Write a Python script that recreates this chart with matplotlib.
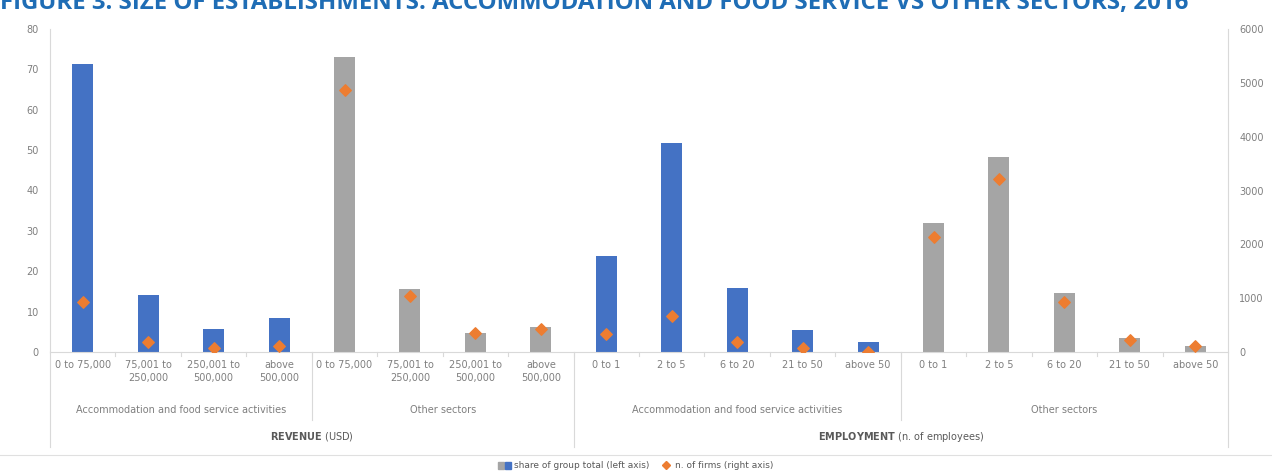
import matplotlib.pyplot as plt
from matplotlib.patches import Patch
from matplotlib.lines import Line2D
from matplotlib.legend_handler import HandlerTuple

# --- DONNEES ---
rev_labels = ["0 to 75,000", "75,001 to\n250,000", "250,001 to\n500,000", "above\n500,000"]
emp_labels = ["0 to 1", "2 to 5", "6 to 20", "21 to 50", "above 50"]

rev_acc_share = [71.3, 14.1, 5.6, 8.5]
rev_oth_share = [73.0, 15.7, 4.8, 6.3]
emp_acc_share = [23.8, 51.8, 15.8, 5.4, 2.4]
emp_oth_share = [32.0, 48.4, 14.6, 3.4, 1.6]

rev_acc_firms = [935, 180, 75, 110]
rev_oth_firms = [4870, 1040, 350, 420]
emp_acc_firms = [335, 670, 190, 70, 5]
emp_oth_firms = [2140, 3215, 930, 220, 110]

group_labels = ["Accommodation and food service activities", "Other sectors",
                "Accommodation and food service activities", "Other sectors"]
BLUE, GREY, ORANGE = "#4472C4", "#A5A5A5", "#ED7D31"
TXT = "#7f7f7f"

labels = rev_labels + rev_labels + emp_labels + emp_labels
shares = rev_acc_share + rev_oth_share + emp_acc_share + emp_oth_share
firms = rev_acc_firms + rev_oth_firms + emp_acc_firms + emp_oth_firms
colors = [BLUE] * 4 + [GREY] * 4 + [BLUE] * 5 + [GREY] * 5
x = list(range(len(labels)))

fig = plt.figure(figsize=(12.72, 4.76), dpi=100)
ax = fig.add_axes([50 / 1272, 1 - 352 / 476, (1228 - 50) / 1272, (352 - 29) / 476])
ax2 = ax.twinx()

ax.bar(x, shares, width=0.32, color=colors, zorder=2)
ax2.scatter(x, firms, marker="D", s=34, color=ORANGE, zorder=3)

ax.set_xlim(-0.5, len(labels) - 0.5)
ax.set_ylim(0, 80)
ax2.set_ylim(0, 6000)
ax.set_yticks(range(0, 81, 10))
ax2.set_yticks(range(0, 6001, 1000))

for a in (ax, ax2):
    a.tick_params(axis="y", length=0, labelsize=7, labelcolor=TXT, pad=8)
    for s in a.spines.values():
        s.set_visible(False)
ax.spines["left"].set_visible(True)
ax.spines["left"].set_color("#d9d9d9")
ax2.spines["right"].set_visible(True)
ax2.spines["right"].set_color("#d9d9d9")
ax.spines["bottom"].set_visible(True)
ax.spines["bottom"].set_color("#d9d9d9")

ax.set_xticks(x)
ax.set_xticklabels(labels, fontsize=7, color=TXT, linespacing=1.3)
ax.tick_params(axis="x", length=0, pad=6)

# petites graduations entre catégories
tr = ax.get_xaxis_transform()
for b in range(1, len(labels)):
    ax.plot([b - 0.5, b - 0.5], [0, -0.012], color="#d9d9d9", lw=0.8,
            transform=tr, clip_on=False)

# --- axe multi-niveaux ---
bounds = [-0.5, 3.5, 7.5, 12.5, 17.5]
for i in range(4):
    mid = (bounds[i] + bounds[i + 1]) / 2
    ax.text(mid, -0.18, group_labels[i], transform=tr, ha="center", va="center",
            fontsize=7, color=TXT)
for b in (3.5, 12.5):
    ax.plot([b, b], [0, -0.21], color="#d9d9d9", lw=0.8, transform=tr, clip_on=False)
for b in (-0.5, 7.5, 17.5):
    ax.plot([b, b], [0, -0.295], color="#d9d9d9", lw=0.8, transform=tr, clip_on=False)

ax.text(3.5, -0.263, r"$\mathbf{REVENUE}$ (USD)", transform=tr, ha="center", va="center",
        fontsize=7, color="#595959")
ax.text(12.5, -0.263, r"$\mathbf{EMPLOYMENT}$ (n. of employees)", transform=tr, ha="center",
        va="center", fontsize=7, color="#595959")

# ligne de séparation + légende
fig.add_artist(Line2D([0, 1], [1 - 455 / 476, 1 - 455 / 476], color="#e0e0e0", lw=0.8))
h_bar = (Patch(color=GREY), Patch(color=BLUE))
h_dot = Line2D([], [], marker="D", ls="none", color=ORANGE, markersize=4)
fig.legend([h_bar, h_dot], ["share of group total (left axis)", "n. of firms (right axis)"],
           handler_map={tuple: HandlerTuple(ndivide=None, pad=0.1)},
           loc="center", bbox_to_anchor=(0.5, 1 - 466 / 476), ncol=2, frameon=False,
           fontsize=6.5, labelcolor="#595959", handlelength=1.4, handletextpad=0.3,
           columnspacing=1.2)

# titre (coupé en haut comme dans l'original)
fig.text(0.0, 1 - 9 / 476, "FIGURE 3: SIZE OF ESTABLISHMENTS: ACCOMMODATION AND FOOD SERVICE VS OTHER SECTORS, 2016",
         ha="left", va="baseline", fontsize=17.3, fontweight="bold", color="#1f6db5",
         family="Open Sans")

fig.savefig("out.png", dpi=100)
